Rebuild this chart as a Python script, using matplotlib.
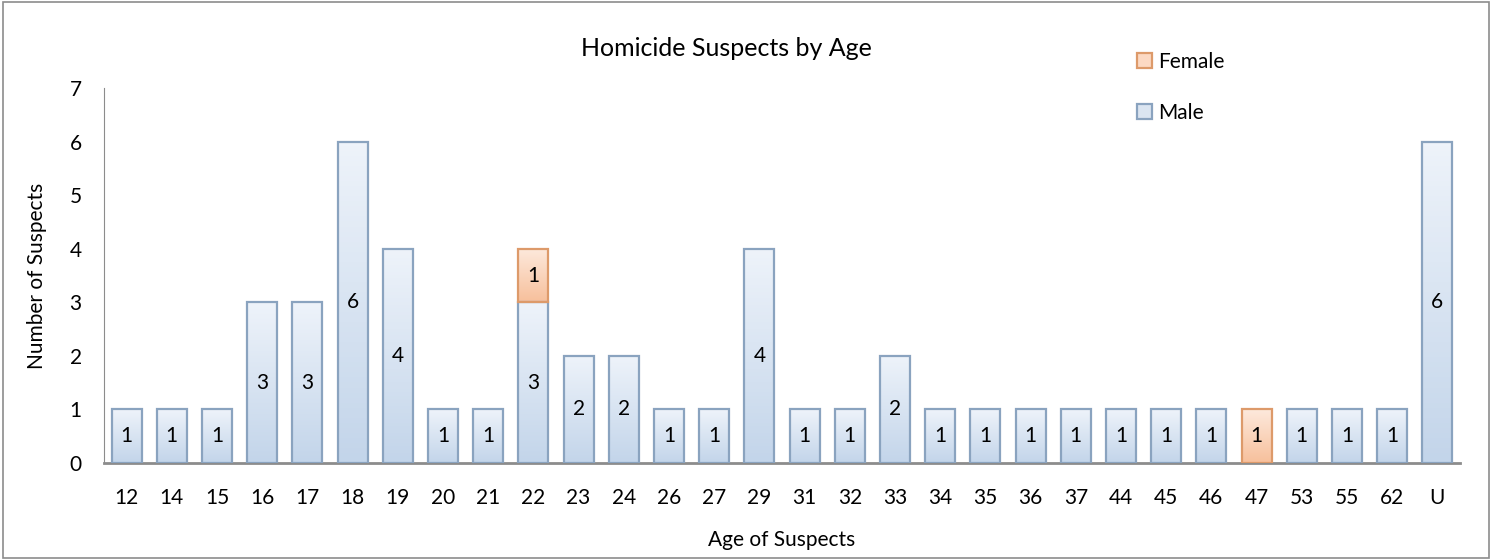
import numpy as np
import matplotlib.pyplot as plt
from matplotlib.patches import Rectangle, Patch

ages = ["12", "14", "15", "16", "17", "18", "19", "20", "21", "22", "23", "24",
        "26", "27", "29", "31", "32", "33", "34", "35", "36", "37", "44", "45",
        "46", "47", "53", "55", "62", "U"]
male = [1, 1, 1, 3, 3, 6, 4, 1, 1, 3, 2, 2, 1, 1, 4, 1, 1, 2, 1, 1, 1, 1, 1, 1,
        1, 0, 1, 1, 1, 6]
female = [0, 0, 0, 0, 0, 0, 0, 0, 0, 1, 0, 0, 0, 0, 0, 0, 0, 0, 0, 0, 0, 0, 0, 0,
          0, 1, 0, 0, 0, 0]

plt.rcParams['font.family'] = ['Lato', 'DejaVu Sans']

fig = plt.figure(figsize=(14.93, 5.6), dpi=100)
ax = fig.add_axes([104 / 1493, 97 / 560, 1356 / 1493, 375 / 560])

x = np.arange(len(ages))
width = 0.66

male_cols = ("#eef3fa", "#c3d5ea")
female_cols = ("#fde9dc", "#f7c09c")


def gradient_bars(bars, cols, edge):
    c_top = np.array(plt.matplotlib.colors.to_rgb(cols[0]))
    c_bot = np.array(plt.matplotlib.colors.to_rgb(cols[1]))
    t = np.linspace(0, 1, 64)[:, None]
    img = (c_top[None, :] * (1 - t) + c_bot[None, :] * t)[:, None, :]
    for b in bars:
        h = b.get_height()
        if h <= 0:
            b.set_visible(False)
            continue
        x0, y0, w = b.get_x(), b.get_y(), b.get_width()
        im = ax.imshow(img, extent=[x0, x0 + w, y0, y0 + h], aspect='auto',
                       origin='upper', zorder=2)
        im.set_clip_path(b)
        b.set_facecolor('none')
        b.set_edgecolor(edge)
        b.set_linewidth(1.6)
        b.set_zorder(3)


mb = ax.bar(x, male, width, label="Male")
fb = ax.bar(x, female, width, bottom=male, label="Female")
gradient_bars(mb, male_cols, "#8aa3bf")
gradient_bars(fb, female_cols, "#dd9a6a")

for i in range(len(ages)):
    if male[i] > 0:
        ax.text(x[i], male[i] / 2, str(male[i]), ha='center', va='center',
                fontsize=15, zorder=4)
    if female[i] > 0:
        ax.text(x[i], male[i] + female[i] / 2, str(female[i]), ha='center',
                va='center', fontsize=15, zorder=4)

ax.set_xlim(-0.5, len(ages) - 0.5)
ax.set_ylim(0, 7)
ax.set_xticks(x)
ax.set_xticklabels(ages, fontsize=15)
ax.set_yticks(range(8))
ax.tick_params(axis='both', length=0, labelsize=15)
ax.tick_params(axis='y', pad=16)
ax.tick_params(axis='x', pad=18)
for s in ['top', 'right']:
    ax.spines[s].set_visible(False)
ax.spines['left'].set_color('#8c8c8c')
ax.spines['bottom'].set_color('#8c8c8c')
ax.spines['bottom'].set_linewidth(2)
ax.set_xlabel("Age of Suspects", fontsize=15, labelpad=16)
ax.set_ylabel("Number of Suspects", fontsize=15, labelpad=16)

fig.text(726 / 1493, 1 - 48 / 560, "Homicide Suspects by Age", ha='center',
         va='center', fontsize=18)

handles = [Patch(facecolor="#fcd9c3", edgecolor="#dd9a6a", linewidth=1.6, label="Female"),
           Patch(facecolor="#dbe5f1", edgecolor="#8aa3bf", linewidth=1.6, label="Male")]
fig.legend(handles=handles, loc='upper left', bbox_to_anchor=(1118 / 1493, 1 - 33 / 560),
           frameon=False, fontsize=15, handlelength=0.75, handleheight=0.75,
           handletextpad=0.3, labelspacing=1.5)

fig.patches.append(Rectangle((0.002, 0.003), 0.995, 0.993, transform=fig.transFigure,
                             fill=False, edgecolor='#8c8c8c', linewidth=1.2))

fig.savefig("out.png", dpi=100)
